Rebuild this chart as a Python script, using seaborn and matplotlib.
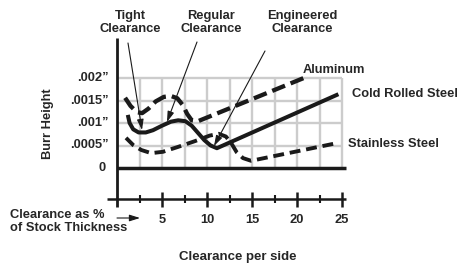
import numpy as np
import pandas as pd
import matplotlib
matplotlib.use("Agg")
import matplotlib.pyplot as plt
import seaborn as sns

# ---------------- data (x = clearance %, y = burr height in thousandths of an inch)
alu_x = [0.9, 1.5, 2.2, 2.8, 3.5, 4.3, 5.2, 6.0, 6.7, 7.3, 7.8, 8.3, 9.0, 21.0]
alu_y = [1.56, 1.38, 1.24, 1.22, 1.32, 1.48, 1.58, 1.60, 1.55, 1.40, 1.20, 1.06, 1.04, 2.02]

crs_x = [1.2, 1.4, 1.8, 2.4, 3.2, 4.0, 5.0, 6.0, 6.8, 7.6, 8.3, 9.0, 9.7, 10.4, 11.1, 24.6]
crs_y = [1.18, 1.00, 0.86, 0.79, 0.79, 0.84, 0.94, 1.03, 1.06, 1.04, 0.94, 0.78, 0.62, 0.50, 0.44, 1.64]

ss_x = [1.0, 1.8, 2.7, 3.8, 5.1, 6.8, 8.7, 10.3, 11.3, 12.1, 12.7, 13.3, 14.0, 14.9, 24.6]
ss_y = [0.67, 0.51, 0.40, 0.33, 0.36, 0.47, 0.60, 0.72, 0.76, 0.70, 0.55, 0.35, 0.22, 0.16, 0.56]

y_ticks = [0.5, 1.0, 1.5, 2.0]
y_tick_labels = [".0005\u201d", ".001\u201d", ".0015\u201d", ".002\u201d"]
x_major = [5, 10, 15, 20, 25]
x_major_labels = ["5", "10", "15", "20", "25"]
x_minor = [2.5, 7.5, 12.5, 17.5, 22.5]
x_grid = [2.5, 5, 7.5, 10, 12.5, 15, 17.5, 20, 22.5, 25]

series_labels = ["Aluminum", "Cold Rolled Steel", "Stainless Steel"]
callouts = ["Tight\nClearance", "Regular\nClearance", "Engineered\nClearance"]

# ---------------- figure
sns.set_theme(style="white")
plt.rcParams["font.family"] = ["Liberation Sans", "DejaVu Sans"]
plt.rcParams["font.weight"] = "bold"

W, H = 457, 265
fig = plt.figure(figsize=(W / 100, H / 100), dpi=100)
ax = fig.add_axes([0, 0, 1, 1])
# pixel layout: x=0 at px 117, 9 px per unit; y=0 at px 168, 45 px per unit
X = lambda px: (px - 117) / 9.0
Y = lambda py: (168 - py) / 45.0
ax.set_xlim(X(0), X(W))
ax.set_ylim(Y(H), Y(0))
ax.axis("off")

grid_c = "#cccccc"
ax.hlines(y_ticks, 0, 25, color=grid_c, lw=1.7, zorder=1)
ax.vlines(x_grid, 0, 2, color=grid_c, lw=1.7, zorder=1)

# axes lines
ax.hlines(0, 0, 25.4, color="k", lw=2.5, zorder=3)
ax.vlines(0, Y(207), Y(38), color="k", lw=2.0, zorder=3)
ax.hlines(Y(199), X(107), X(346), color="k", lw=1.8, zorder=3)
ax.vlines(x_major, Y(207), Y(192), color="k", lw=1.8, zorder=3)
ax.vlines(x_minor, Y(203), Y(195), color="k", lw=1.5, zorder=3)

fs = 9.3
for v, lab in zip(y_ticks, y_tick_labels):
    ax.text(X(108.5), v, lab, ha="right", va="center", fontsize=fs, fontweight="bold")
ax.text(X(105.5), 0, "0", ha="right", va="center", fontsize=fs, fontweight="bold")
for v, lab in zip(x_major, x_major_labels):
    ax.text(v, Y(220), lab, ha="center", va="center", fontsize=fs, fontweight="bold")

# curves
df_alu = pd.DataFrame({"x": alu_x, "y": alu_y})
df_crs = pd.DataFrame({"x": crs_x, "y": crs_y})
df_ss = pd.DataFrame({"x": ss_x, "y": ss_y})

sns.lineplot(data=df_ss, x="x", y="y", ax=ax, color="k", lw=2.8, sort=False, estimator=None, zorder=4)
l_ss = ax.lines[-1]
l_ss.set_dashes((2.8, 1.5))
sns.lineplot(data=df_alu, x="x", y="y", ax=ax, color="k", lw=3.1, sort=False, estimator=None, zorder=4)
l_alu = ax.lines[-1]
l_alu.set_dashes((3.2, 1.4))
sns.lineplot(data=df_crs, x="x", y="y", ax=ax, color="k", lw=2.9, sort=False, estimator=None, zorder=5)
l_crs = ax.lines[-1]
l_crs.set_solid_joinstyle("round")
l_crs.set_solid_capstyle("butt")

# series labels
ax.text(X(303), Y(70), series_labels[0], ha="left", va="center", fontsize=fs, fontweight="bold")
ax.text(X(352), Y(94), series_labels[1], ha="left", va="center", fontsize=fs, fontweight="bold")
ax.text(X(348), Y(144), series_labels[2], ha="left", va="center", fontsize=fs, fontweight="bold")

# callouts
ap = dict(arrowstyle="-|>,head_length=0.7,head_width=0.22", lw=0.8, color="k",
          mutation_scale=9, shrinkA=0, shrinkB=0)
for (cx, lab, s, t) in [
    (130, callouts[0], (128, 43), (142, 130)),
    (211, callouts[1], (197, 42), (167, 122)),
    (302, callouts[2], (265, 51), (214, 146)),
]:
    ax.text(X(cx), Y(22.5), lab, ha="center", va="center", fontsize=fs,
            fontweight="bold", linespacing=1.15, multialignment="center")
    ax.annotate("", xy=(X(t[0]), Y(t[1])), xytext=(X(s[0]), Y(s[1])), arrowprops=ap, zorder=6)

# x-axis annotation
ax.text(X(10), Y(221.5), "Clearance as %\nof Stock Thickness", ha="left", va="center",
        fontsize=fs, fontweight="bold", linespacing=1.15)
ax.annotate("", xy=(X(140), Y(218)), xytext=(X(117), Y(218)), arrowprops=ap)
ax.text(X(238), Y(257), "Clearance per side", ha="center", va="center", fontsize=9.5, fontweight="bold")
ax.text(X(48), Y(124), "Burr Height", ha="center", va="center", rotation=90, fontsize=fs, fontweight="bold")

fig.savefig("out.png", dpi=100)
